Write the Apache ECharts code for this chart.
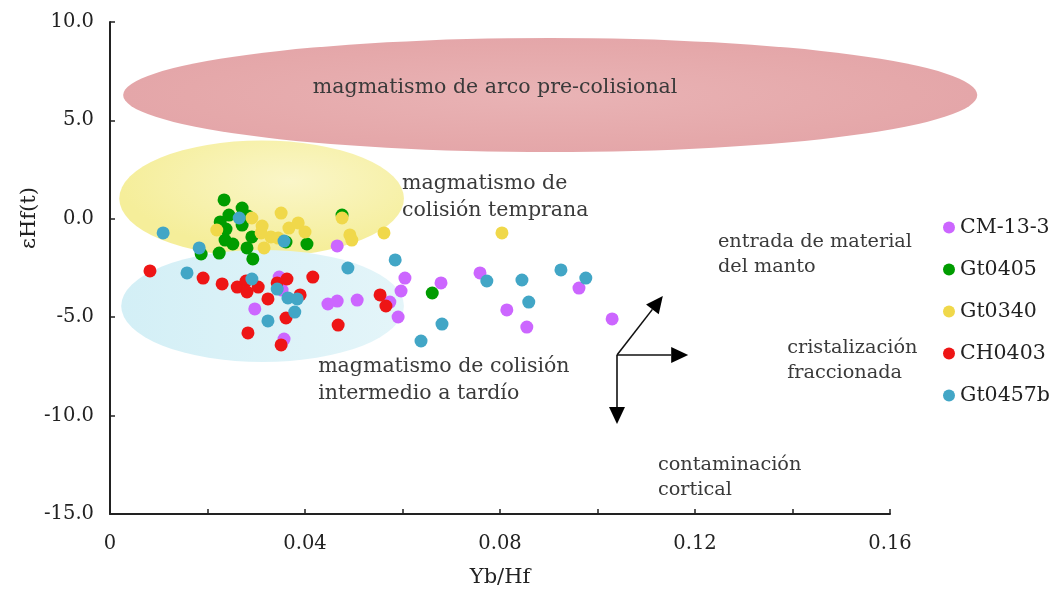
<!DOCTYPE html>
<html><head><meta charset="utf-8">
<script src="https://cdn.jsdelivr.net/npm/echarts@6/dist/echarts.min.js"></script>
<style>html,body{margin:0;padding:0;background:#fff}#c{width:1056px;height:589px}</style>
</head><body><div id="c"></div>
<script>
// ---- data ----
const seriesNames = ['CM-13-3','Gt0405','Gt0340','CH0403','Gt0457b'];
const cm13_3 = [[0.0466,-1.38],[0.0347,-2.96],[0.0353,-3.62],[0.0297,-4.58],[0.0357,-6.11],[0.0447,-4.33],[0.0466,-4.18],[0.0507,-4.13],[0.0605,-3.01],[0.0597,-3.67],[0.0591,-4.99],[0.0574,-4.23],[0.0679,-3.26],[0.0759,-2.75],[0.0814,-4.63],[0.0855,-5.50],[0.0962,-3.52],[0.1030,-5.09]];
const gt0405 = [[0.0234,0.96],[0.0271,0.55],[0.0244,0.19],[0.0283,0.14],[0.0226,-0.16],[0.0271,-0.32],[0.0238,-0.52],[0.0291,-0.92],[0.0236,-1.08],[0.0252,-1.28],[0.0281,-1.48],[0.0224,-1.74],[0.0293,-2.04],[0.0187,-1.79],[0.0361,-1.18],[0.0404,-1.28],[0.0476,0.19],[0.0661,-3.77]];
const gt0340 = [[0.0351,0.29],[0.0291,0.04],[0.0312,-0.37],[0.0219,-0.57],[0.0330,-0.92],[0.0367,-0.47],[0.0386,-0.21],[0.0400,-0.67],[0.0345,-0.98],[0.0316,-1.48],[0.0476,0.04],[0.0492,-0.82],[0.0496,-1.08],[0.0562,-0.72],[0.0804,-0.72],[0.0310,-0.72]];
const ch0403 = [[0.0082,-2.65],[0.0191,-3.01],[0.0230,-3.31],[0.0261,-3.47],[0.0279,-3.16],[0.0281,-3.72],[0.0304,-3.47],[0.0343,-3.26],[0.0363,-3.06],[0.0416,-2.96],[0.0324,-4.07],[0.0390,-3.87],[0.0361,-5.04],[0.0283,-5.80],[0.0351,-6.41],[0.0554,-3.87],[0.0566,-4.43],[0.0468,-5.40]];
const gt0457b = [[0.0109,-0.72],[0.0183,-1.48],[0.0265,0.04],[0.0357,-1.13],[0.0158,-2.75],[0.0291,-3.06],[0.0343,-3.57],[0.0365,-4.02],[0.0384,-4.07],[0.0379,-4.74],[0.0324,-5.19],[0.0488,-2.50],[0.0585,-2.09],[0.0681,-5.35],[0.0638,-6.21],[0.0773,-3.16],[0.0845,-3.11],[0.0925,-2.60],[0.0976,-3.01],[0.0859,-4.23]];
const seriesData = [cm13_3, gt0405, gt0340, ch0403, gt0457b];
const xTicks = [0, 0.04, 0.08, 0.12, 0.16];
const yTicks = [-15, -10, -5, 0, 5, 10];

// field ellipses in data units: [cx, cy, rx, ry]
const fields = [[0.0903, 6.29, 0.0876, 2.90],[0.0311, 1.03, 0.0292, 2.95],[0.0313, -4.43, 0.0290, 2.85]];
const fieldLabels = [
  [0.0790, 6.65, 'magmatismo de arco pre-colisional', 'center'],
  [0.0599, 1.08, 'magmatismo de\ncolisión temprana', 'left'],
  [0.0427, -8.22, 'magmatismo de colisión\nintermedio a tardío', 'left'],
  [0.1247, -1.81, 'entrada de material\ndel manto', 'left'],
  [0.1389, -7.20, 'cristalización\nfraccionada', 'left'],
  [0.1124, -13.15, 'contaminación\ncortical', 'left']
];
// trend arrows [x0,y0,x1,y1]
const arrows = [[0.104,-6.92,0.1134,-3.92],[0.104,-6.92,0.1186,-6.92],[0.104,-6.92,0.104,-10.43]];

const colors = ['#cc66ff','#009c00','#f0d84a','#ee1515','#42a6c6'];
const FONT = "'DejaVu Serif', 'Liberation Serif', serif";

const fieldFills = [
  {type:'radial',x:0.5,y:0.5,r:0.5,colorStops:[{offset:0,color:'#e9b3b5'},{offset:0.85,color:'#e5a8aa'},{offset:1,color:'#e4a6a9'}]},
  {type:'radial',x:0.6,y:0.35,r:0.6,colorStops:[{offset:0,color:'#faf6c8'},{offset:1,color:'#f5ee9a'}]},
  {type:'linear',x:0,y:0,x2:1,y2:0,colorStops:[{offset:0,color:'#d3eff6'},{offset:1,color:'#e4f5f9'}]}
];

const chart = echarts.init(document.getElementById('c'), null, {renderer:'canvas'});
const series = [];
series.push({
  type:'custom', silent:true, clip:false, z:1,
  data: fields,
  renderItem: function(params, api){
    const c = api.coord([api.value(0), api.value(1)]);
    const s = api.size([api.value(2), api.value(3)]);
    return {type:'circle', x:c[0], y:c[1], scaleX: s[0]/s[1], scaleY:1,
      shape:{cx:0, cy:0, r:s[1]}, style:{fill: fieldFills[params.dataIndex]}};
  }
});
series.push({
  type:'custom', silent:true, clip:false, z:1,
  data: fieldLabels.map(d=>[d[0],d[1]]),
  renderItem: function(params, api){
    const c = api.coord([api.value(0), api.value(1)]);
    const d = fieldLabels[params.dataIndex];
    const big = params.dataIndex < 3;
    return {type:'text', x:c[0], y:c[1], style:{text:d[2], fill:'#3a3a3a',
      font: (big? '20.5px ':'19.3px ') + FONT, align:d[3], textAlign:d[3], verticalAlign:'middle', textVerticalAlign:'middle', lineHeight: big?27:25}};
  }
});
series.push({
  type:'custom', silent:true, clip:false, z:3,
  data: arrows,
  renderItem: function(params, api){
    const p0 = api.coord([api.value(0), api.value(1)]);
    const p1 = api.coord([api.value(2), api.value(3)]);
    const ang = Math.atan2(p1[1]-p0[1], p1[0]-p0[0]);
    const L = 17, W = 8;
    const bx = p1[0]-L*Math.cos(ang), by = p1[1]-L*Math.sin(ang);
    const nx = -Math.sin(ang), ny = Math.cos(ang);
    return {type:'group', children:[
      {type:'line', shape:{x1:p0[0],y1:p0[1],x2:bx,y2:by}, style:{stroke:'#111', lineWidth:1.6}},
      {type:'polygon', shape:{points:[[p1[0],p1[1]],[bx+nx*W,by+ny*W],[bx-nx*W,by-ny*W]]}, style:{fill:'#000'}}
    ]};
  }
});
seriesNames.forEach((n,i)=>{
  series.push({type:'scatter', name:n, data:seriesData[i], symbol:'circle', symbolSize:13,
    itemStyle:{color:colors[i], opacity:1}, z:2});
});

chart.setOption({
  animation:false,
  backgroundColor:'#fff',
  grid:{left:110, right:166, top:22, bottom:75, containLabel:false, outerBoundsMode:'none'},
  legend:{orient:'vertical', left:938, top:212, data:seriesNames, icon:'circle',
    itemWidth:12, itemHeight:12, itemGap:21,
    textStyle:{fontFamily:FONT, fontSize:20.5, color:'#222', padding:[0,0,0,0], lineHeight:19}},
  xAxis:{type:'value', min:0, max:0.16, interval:0.02,
    axisLine:{show:true, onZero:false, lineStyle:{color:'#222', width:2}},
    axisTick:{show:true, inside:true, length:5, lineStyle:{color:'#222', width:1.5}},
    splitLine:{show:false},
    axisLabel:{margin:20, fontFamily:FONT, fontSize:19.5, color:'#222',
      formatter:function(v){ const r = Math.round(v*100)/100; return xTicks.some(t=>Math.abs(t-r)<1e-9) ? (r===0?'0':r.toFixed(2)) : ''; }},
    name:'Yb/Hf', nameLocation:'middle', nameGap:53,
    nameTextStyle:{fontFamily:FONT, fontSize:21, color:'#222'}},
  yAxis:{type:'value', min:-15, max:10, interval:5,
    axisLine:{show:true, onZero:false, lineStyle:{color:'#222', width:2}},
    axisTick:{show:true, inside:true, length:5, lineStyle:{color:'#222', width:1.5}},
    splitLine:{show:false},
    axisLabel:{margin:16, fontFamily:FONT, fontSize:19.5, color:'#222',
      formatter:function(v){ return yTicks.indexOf(v)>=0 ? v.toFixed(1) : ''; }}},
  graphic:[{type:'text', x:30, y:218, rotation:Math.PI/2,
    style:{text:'εHf(t)', font:'21px '+FONT, fill:'#222', align:'center', textAlign:'center', verticalAlign:'middle', textVerticalAlign:'middle'}}],
  series: series
});
</script></body></html>
